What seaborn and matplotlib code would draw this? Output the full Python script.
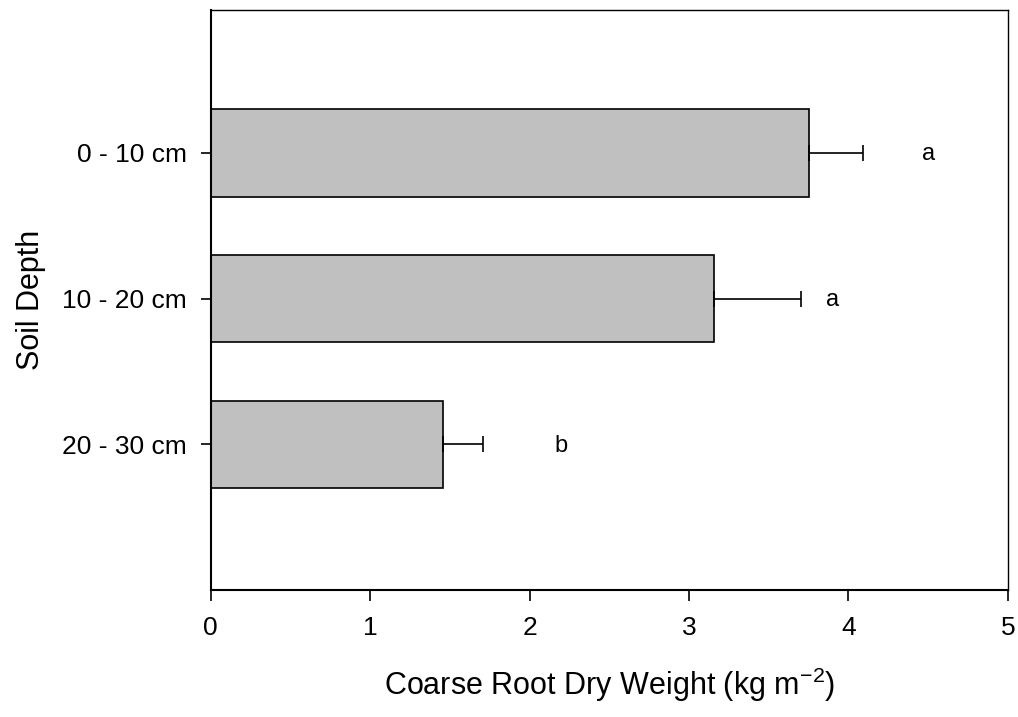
import matplotlib
matplotlib.use("Agg")
import matplotlib.pyplot as plt
import seaborn as sns
import pandas as pd

depths = ["0 - 10 cm", "10 - 20 cm", "20 - 30 cm"]
weights = [3.75, 3.16, 1.455]
errors = [0.34, 0.54, 0.255]
letters = ["a", "a", "b"]
letter_x = [4.5, 3.9, 2.2]
x_ticks = [0, 1, 2, 3, 4, 5]

sns.set_theme(style="ticks")
plt.rcParams["font.family"] = ["Liberation Sans", "DejaVu Sans"]
plt.rcParams["mathtext.fontset"] = "custom"
plt.rcParams["mathtext.rm"] = "Liberation Sans"

df = pd.DataFrame({"depth": depths, "weight": weights})

fig = plt.figure(figsize=(10.18, 7.17), dpi=100)
ax = fig.add_axes([0.207, 0.177, 0.783, 0.809])

sns.barplot(data=df, x="weight", y="depth", orient="h", color="#c0c0c0",
            saturation=1, width=0.6, edgecolor="black", linewidth=1.2, ax=ax,
            errorbar=None)

ypos = list(range(len(depths)))
ax.errorbar(weights, ypos, xerr=[[0] * len(errors), errors], fmt="none",
            ecolor="black", elinewidth=1.2, capsize=6, capthick=1.2)

for y, lx, lt in zip(ypos, letter_x, letters):
    ax.text(lx, y + 0.01, lt, ha="center", va="center", fontsize=17, color="black")

ax.set_xlim(0, 5)
ax.set_ylim(3.0, -0.98)
ax.set_xticks(x_ticks)
ax.set_xticklabels([str(t) for t in x_ticks])
ax.tick_params(axis="both", direction="out", length=8, width=1.2,
               labelsize=19, colors="black", pad=11)
ax.tick_params(axis="y", length=7, pad=10)

for side in ["left", "bottom"]:
    ax.spines[side].set_linewidth(1.5)
    ax.spines[side].set_color("black")
for side in ["top", "right"]:
    ax.spines[side].set_visible(True)
    ax.spines[side].set_linewidth(1.0)
    ax.spines[side].set_color("black")

ax.set_xlabel("Coarse Root Dry Weight (kg m$^{\\mathregular{-2}}$)", fontsize=22,
              labelpad=18, color="black")
ax.set_ylabel("Soil Depth", fontsize=22, labelpad=12, color="black")

fig.savefig("out.png", dpi=100)
